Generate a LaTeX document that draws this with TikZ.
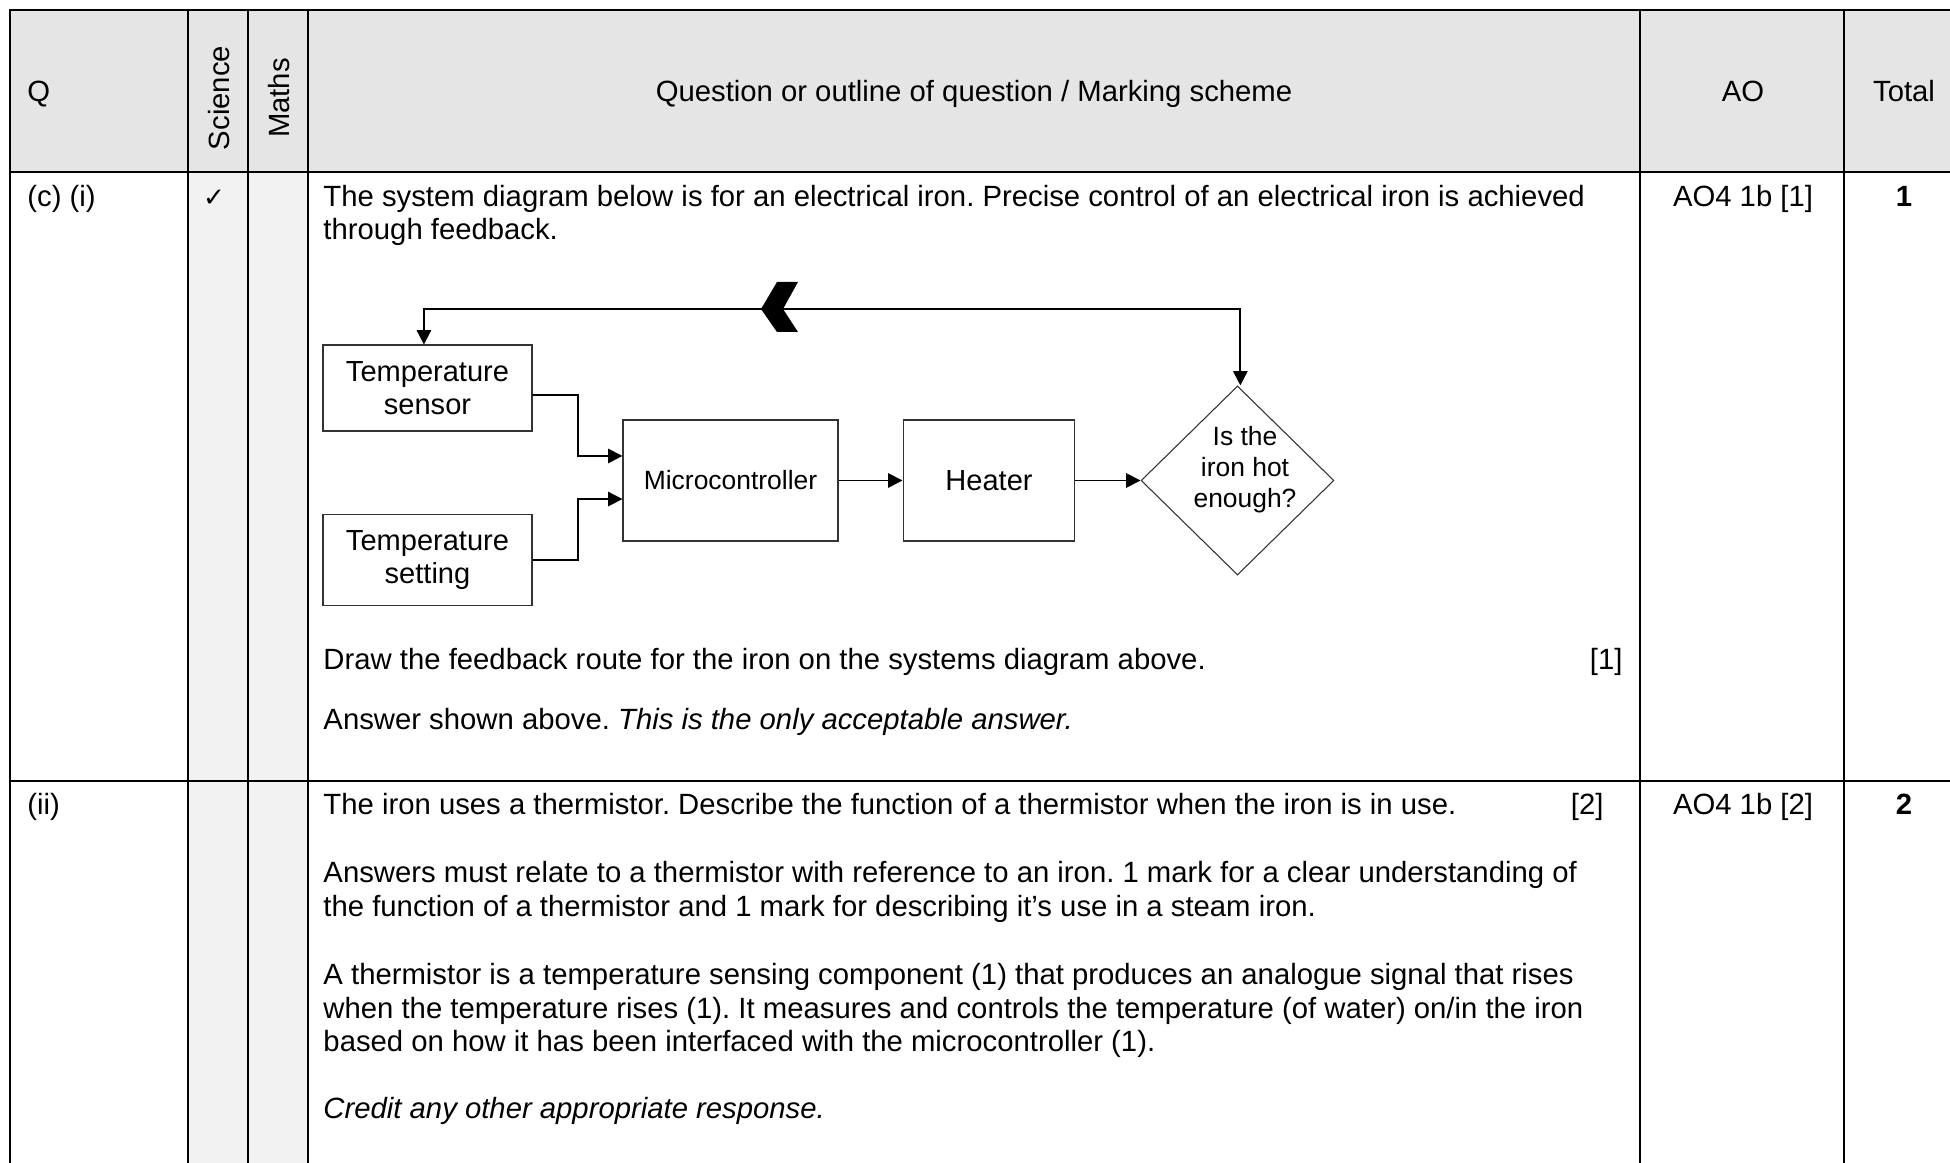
\documentclass[tikz,border=0pt]{standalone}
\usepackage{fontspec}
\setmainfont{Liberation Sans}
\newfontfamily\dejavu{DejaVu Sans}
\usetikzlibrary{arrows.meta,shapes.geometric,calc}
\frenchspacing
\begin{document}
\begin{tikzpicture}[x=0.42pt,y=-0.42pt,
  txt/.style={inner sep=0pt,font=\fontsize{12.3}{13.8}\selectfont},
  lt/.style={txt,anchor=base west},
  ct/.style={txt,anchor=base},
  rt/.style={txt,anchor=base east},
  gridline/.style={line width=0.9pt,black},
  blk/.style={draw=black!80,line width=0.45pt,inner sep=0pt,align=center,font=\fontsize{12.2}{13.8}\selectfont},
  smallblk/.style={blk,font=\fontsize{11.1}{13}\selectfont},
  conn/.style={line width=0.75pt,-{Triangle[length=6pt,width=6pt]}},
  fb/.style={line width=0.75pt,{Triangle[length=6pt,width=6pt]}-{Triangle[length=6pt,width=6pt]}},
]
\useasboundingbox (0,0) rectangle (1950,1163);
% backgrounds
\fill[black!10] (10,10) rectangle (1950,172);
\fill[black!5] (188,172) rectangle (308,1163);
% grid
\draw[gridline] (1950,10) -- (10,10) -- (10,1163);
\foreach \cx in {188,248,308,1640,1844} \draw[gridline] (\cx,10) -- (\cx,1163);
\draw[gridline] (10,172) -- (1950,172);
\draw[gridline] (10,781) -- (1950,781);

% header
\node[lt] (hq) at (27,102) {Q};
\node[txt,rotate=90] (hsci) at (219,98) {Science};
\node[txt,rotate=90] (hmath) at (279,98) {Maths};
\node[ct] (hquest) at (974,102) {Question or outline of question / Marking scheme};
\node[ct] (hao) at (1743,102) {AO};
\node[ct] (htot) at (1904,102) {Total};

% row 1
\node[lt] (q1) at (27,207) {(c) (i)};
\node[inner sep=0pt,font=\dejavu\fontsize{11}{12}\selectfont] (tick) at (214,198) {✓};
\node[lt] (r1a) at (323,207) {The system diagram below is for an electrical iron. Precise control of an electrical iron is achieved};
\node[lt] (r1b) at (323,240) {through feedback.};
\node[lt] (r1c) at (323,670) {Draw the feedback route for the iron on the systems diagram above.};
\node[rt] (r1m) at (1623,670) {[1]};
\node[lt] (r1d) at (323,730) {Answer shown above. \textit{This is the only acceptable answer.}};
\node[ct] (ao1) at (1743,207) {AO4 1b [1]};
\node[ct] (tot1) at (1904,207) {\textbf{1}};

% diagram
\node[blk,minimum width=87.8pt,minimum height=36.1pt] (sensor) at (427.5,388) {Temperature\\sensor};
\node[blk,minimum width=87.8pt,minimum height=38.6pt] (setting) at (427.5,560) {Temperature\\setting};
\node[smallblk,minimum width=90.3pt,minimum height=50.8pt] (micro) at (730.5,480.5) {Microcontroller};
\node[blk,minimum width=72.2pt,minimum height=50.8pt] (heater) at (989,480.5) {Heater};
\node[draw=black!80,line width=0.45pt,diamond,inner sep=0pt,minimum width=81pt,minimum height=79.4pt] (dec) at (1237.5,480.5) {};
\node[txt,align=center,font=\fontsize{11.1}{13}\selectfont] (dectext) at (1245,470) {Is the\\iron hot\\enough?};
\coordinate (j1) at (578,456);
\coordinate (j2) at (578,499);
\coordinate (fbtop) at (900,309);
\draw[conn] ([yshift=-2.9pt]sensor.east) -| (j1) -- ([yshift=10.3pt]micro.west);
\draw[conn] (setting.east) -| (j2) -- ([yshift=-7.8pt]micro.west);
\draw[conn] (micro) -- (heater);
\draw[conn] (heater) -- (dec);
\draw[fb] ([xshift=1.2pt]dec.north) |- (fbtop) -| ([xshift=-1.5pt]sensor.north);
\fill (761,309) -- (777,282) -- (798,282) -- (783,309) -- (798,332) -- (777,332) -- cycle;

% row 2
\node[lt] (q2) at (27,815) {(ii)};
\node[lt] (r2a) at (323,815) {The iron uses a thermistor. Describe the function of a thermistor when the iron is in use.};
\node[rt] (r2m) at (1604,815) {[2]};
\node[ct] (ao2) at (1743,815) {AO4 1b [2]};
\node[ct] (tot2) at (1904,815) {\textbf{2}};
\node[lt] (r2b) at (323,882) {Answers must relate to a thermistor with reference to an iron. 1 mark for a clear understanding of};
\node[lt] (r2c) at (323,916) {the function of a thermistor and 1 mark for describing it’s use in a steam iron.};
\node[lt] (r2d) at (323,984) {A thermistor is a temperature sensing component (1) that produces an analogue signal that rises};
\node[lt] (r2e) at (323,1018) {when the temperature rises (1). It measures and controls the temperature (of water) on/in the iron};
\node[lt] (r2f) at (323,1051) {based on how it has been interfaced with the microcontroller (1).};
\node[lt] (r2g) at (323,1118) {\textit{Credit any other appropriate response.}};
\end{tikzpicture}
\end{document}
